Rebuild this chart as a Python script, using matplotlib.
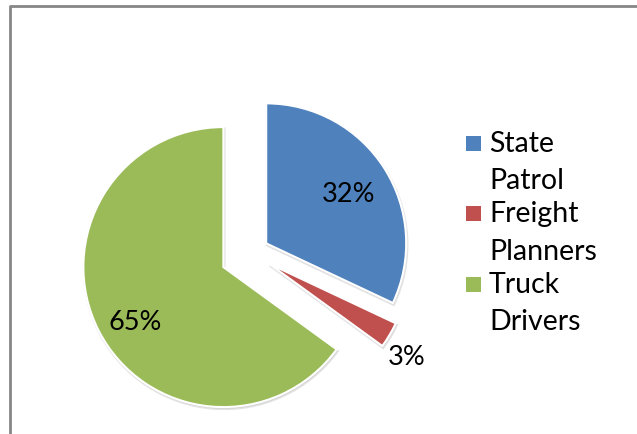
import matplotlib
matplotlib.use('Agg')
from matplotlib import pyplot as plt
from matplotlib.patches import Rectangle

labels = ['State\nPatrol', 'Freight\nPlanners', 'Truck\nDrivers']
shares = [32, 3, 65]
pct_text = ['32%', '3%', '65%']
colors = ['#4F81BD', '#C0504D', '#9BBB59']
explode = [18, 21, 31]

W, H = 637, 435
fig = plt.figure(figsize=(W / 100, H / 100), dpi=100)
ax = fig.add_axes([0, 0, 1, 1])
ax.set_xlim(0, W)
ax.set_ylim(0, H)
ax.set_aspect('equal')
ax.axis('off')

plt.rcParams['font.family'] = ['Lato', 'DejaVu Sans']

# pie in pixel units: centre (251, 254) from top, radius 140
wedges, _ = ax.pie(shares, colors=colors, explode=explode, startangle=90,
                   counterclock=False, center=(251, H - 254), radius=140,
                   wedgeprops=dict(edgecolor='white', linewidth=1.5),
                   shadow=dict(ox=0.6, oy=-1.2, facecolor='#b8b8b8',
                               edgecolor='#c8c8c8', linewidth=2, alpha=0.5))
ax.set_xlim(0, W)
ax.set_ylim(0, H)

# percentage labels
lab_pos = [(349, 195), (407, 358), (135, 323)]
for (x, y), t in zip(lab_pos, pct_text):
    ax.text(x, H - y, t, fontsize=19.5, ha='center', va='center', color='black')

# legend, two text lines per entry
for i, (lab, col) in enumerate(zip(labels, colors)):
    y0 = 144 + i * 70.5
    ax.add_patch(Rectangle((466, H - y0 - 7.5), 15, 15, facecolor=col,
                           edgecolor='none'))
    first, second = lab.split('\n')
    ax.text(489, H - y0, first, fontsize=20.5, ha='left', va='center')
    ax.text(489, H - y0 - 37, second, fontsize=20.5, ha='left', va='center')

# chart area border (top and left visible)
ax.plot([10, 10, W], [0, H - 7, H - 7], color='#868686', lw=2,
        solid_capstyle='butt', clip_on=False)

fig.savefig('out.png', dpi=100)
